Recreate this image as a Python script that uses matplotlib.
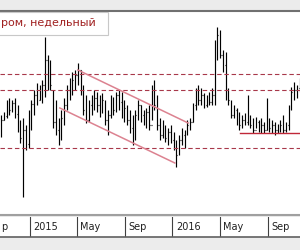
"""Gazprom weekly OHLC chart with channel and support levels."""

import matplotlib
matplotlib.use('Agg')
import matplotlib.pyplot as plt
import matplotlib.dates as mdates
from matplotlib.patches import Rectangle
import pandas as pd


# weekly bars (price in chart points)
weeks = pd.date_range('2014-10-20', periods=110, freq='W-MON')

opens = [118, 130, 134, 146, 140, 147, 136, 122, 112, 120,
         106, 135, 146, 155, 150, 162, 165, 190, 172, 160,
         128, 120, 110, 132, 145, 160, 165, 170, 175, 180,
         160, 140, 130, 145, 140, 152, 145, 138, 150, 130,
         135, 150, 140, 155, 148, 135, 142, 130, 122, 110,
         135, 145, 135, 130, 138, 125, 160, 145, 125, 115,
         125, 112, 118, 110, 105, 95, 110, 115, 108, 125,
         128, 145, 158, 150, 155, 145, 150, 148, 155, 200,
         215, 195, 185, 155, 150, 135, 140, 128, 125, 130,
         128, 132, 125, 120, 128, 122, 125, 120, 125, 122,
         125, 120, 122, 125, 120, 125, 142, 158, 160, 162]
highs = [135, 138, 150, 152, 150, 152, 145, 130, 132, 125,
         140, 150, 160, 167, 165, 170, 213, 195, 190, 160,
         150, 132, 140, 152, 165, 172, 178, 180, 187, 180,
         165, 155, 150, 155, 160, 158, 155, 157, 150, 140,
         155, 153, 158, 160, 158, 150, 145, 140, 135, 140,
         150, 145, 140, 142, 145, 165, 170, 155, 132, 130,
         125, 122, 125, 118, 110, 115, 122, 120, 130, 132,
         147, 162, 165, 162, 157, 155, 158, 162, 210, 223,
         220, 200, 198, 162, 150, 145, 142, 138, 135, 137,
         155, 135, 132, 133, 130, 132, 128, 152, 132, 130,
         128, 126, 130, 135, 128, 145, 163, 168, 165, 172]
lows = [113, 130, 132, 135, 138, 132, 118, 107, 53, 100,
        102, 120, 135, 145, 150, 147, 153, 160, 160, 122,
        115, 105, 110, 125, 140, 150, 155, 160, 165, 155,
        135, 127, 128, 135, 140, 138, 133, 137, 125, 115,
        132, 135, 138, 140, 132, 128, 125, 117, 105, 110,
        130, 128, 125, 122, 120, 130, 140, 120, 110, 112,
        108, 105, 107, 100, 83, 95, 105, 102, 115, 120,
        128, 140, 145, 145, 142, 143, 145, 145, 145, 190,
        192, 178, 150, 145, 132, 132, 125, 120, 122, 125,
        125, 122, 117, 122, 118, 117, 117, 120, 118, 117,
        115, 117, 118, 117, 118, 120, 140, 150, 152, 158]
closes = [130, 134, 146, 140, 147, 136, 122, 112, 120, 106,
          135, 146, 155, 150, 162, 165, 190, 172, 165, 128,
          120, 110, 132, 145, 160, 165, 170, 175, 180, 160,
          140, 130, 145, 140, 152, 145, 138, 150, 130, 135,
          150, 140, 155, 148, 135, 142, 130, 122, 110, 135,
          145, 135, 130, 138, 125, 160, 145, 125, 115, 125,
          112, 118, 110, 105, 95, 110, 115, 108, 125, 128,
          145, 158, 150, 155, 145, 150, 148, 155, 200, 215,
          195, 185, 155, 150, 135, 140, 128, 125, 130, 128,
          132, 125, 120, 128, 122, 125, 120, 125, 122, 125,
          120, 122, 125, 120, 125, 142, 158, 160, 162, 168]

# horizontal levels and trend channel
dashed_levels = [176, 160, 102]
channel_upper_dates = ['2015-05-04', '2016-02-10']
channel_upper_vals = [180, 127]
channel_lower_dates = ['2015-03-19', '2016-01-07']
channel_lower_vals = [142, 87]
support_dates = ['2016-06-22', '2016-11-19']
support_vals = [117, 117]

# date strip: first label is only partly in view in the source ("p" of Sep)
tick_dates = ['2014-09-01', '2015-01-01', '2015-05-01', '2015-09-01',
              '2016-01-01', '2016-05-01', '2016-09-01']
tick_labels = ['p', '2015', 'May', 'Sep', '2016', 'May', 'Sep']

# visible part of the title box text
title = 'ром, недельный'


fig = plt.figure(figsize=(3, 2.5), dpi=100, facecolor='#ececec')
ax = fig.add_axes([0, 35/250, 1, 204/250], facecolor='white')
lab = fig.add_axes([0, 13/250, 1, 20/250], facecolor='white', sharex=ax)

x = mdates.date2num(weeks)
half = 1.4  # tick length in days
ax.vlines(x, lows, highs, color='black', lw=0.85)
ax.hlines(opens, x - half, x, color='black', lw=0.85)
ax.hlines(closes, x, x + half, color='black', lw=0.85)

for lvl in dashed_levels:
    ax.axhline(lvl, color='#a8384a', lw=0.8, ls=(0, (4, 2.5)))

to_num = lambda d: mdates.date2num(pd.to_datetime(d))
ax.plot(to_num(channel_upper_dates), channel_upper_vals, color='#dc8290', lw=1.1)
ax.plot(to_num(channel_lower_dates), channel_lower_vals, color='#dc8290', lw=1.1)
ax.plot(to_num(support_dates), support_vals, color='#c02838', lw=1.0)

ax.set_xlim(to_num('2014-10-17'), to_num('2016-11-22'))
ax.set_ylim(35, 239)
ax.set_xticks([])
ax.set_yticks([])
for side in ['left', 'right']:
    ax.spines[side].set_visible(False)
ax.spines['top'].set_color('#707070')
ax.spines['top'].set_linewidth(1.5)
ax.spines['bottom'].set_color('#a0a0a0')
ax.spines['bottom'].set_linewidth(1.5)

# date strip with separators
lab.set_ylim(0, 1)
lab.set_yticks([])
lab.tick_params(axis='x', bottom=False, labelbottom=False)
for side in ['left', 'right', 'top']:
    lab.spines[side].set_visible(False)
lab.spines['bottom'].set_color('#606060')
lab.spines['bottom'].set_linewidth(1.2)
for d, t in zip(tick_dates, tick_labels):
    xd = to_num(d)
    lab.axvline(xd, color='#404040', lw=0.8)
    if t == 'p':
        lab.text(0.003, 0.5, t, transform=lab.transAxes, ha='left',
                 va='center', fontsize=7, color='#202020')
        continue
    lab.annotate(t, (xd, 0.5), xytext=(2.5, 0), textcoords='offset points',
                 ha='left', va='center', fontsize=7, color='#202020')

# title box, cut at the left edge
fig.patches.append(Rectangle((-0.02, 215/250), 0.38, 23/250,
                             transform=fig.transFigure, facecolor='white',
                             edgecolor='#c8c8c8', lw=0.8, zorder=5))
fig.text(0.003, 227/250, title, ha='left', va='center', fontsize=8,
         color='#a02020', zorder=6)

plt.savefig('out.png', dpi=100)
